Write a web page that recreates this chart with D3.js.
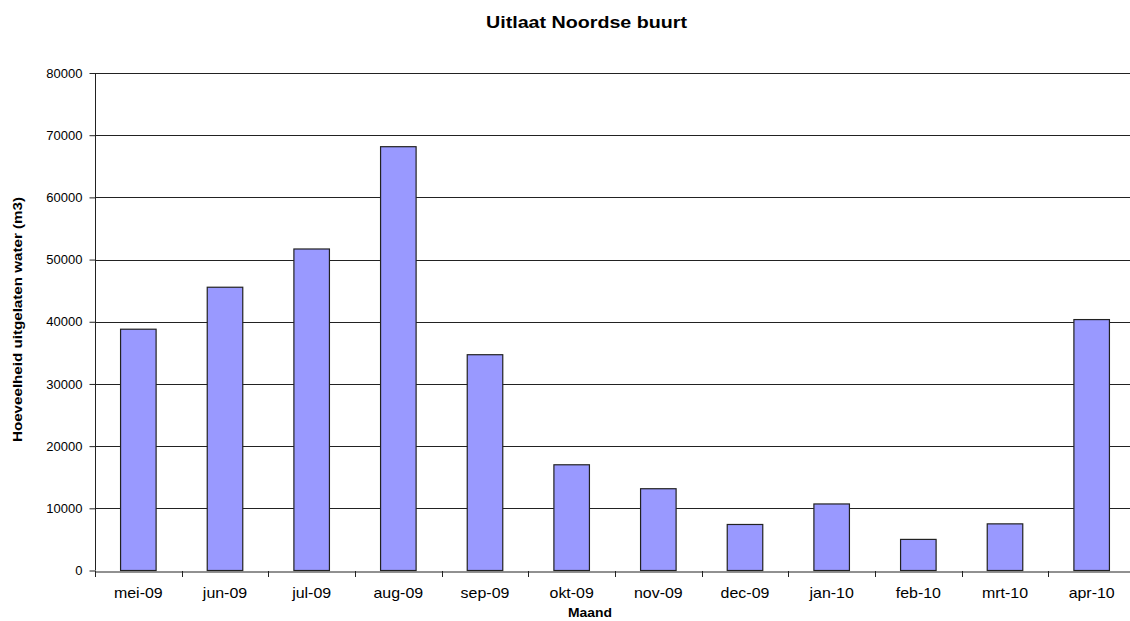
<!DOCTYPE html>
<html>
<head>
<meta charset="utf-8">
<script src="https://cdn.jsdelivr.net/npm/d3@7"></script>
<style>
  body { margin: 0; background: #fff; }
  text { font-family: "Liberation Sans", Arial, sans-serif; }
</style>
</head>
<body>
<div id="chart"></div>
<script>
/* Uitlaat Noordse buurt - bar chart */

const months = ["mei-09", "jun-09", "jul-09", "aug-09", "sep-09", "okt-09",
                "nov-09", "dec-09", "jan-10", "feb-10", "mrt-10", "apr-10"];
const water = [38800, 45550, 51700, 68150, 34700, 17000,
               13150, 7400, 10700, 5000, 7500, 40350];
const yTicks = [0, 10000, 20000, 30000, 40000, 50000, 60000, 70000, 80000];

const width = 1130,
    height = 621,
    margin = ({top: 73, right: -5, bottom: 50.5, left: 95});

let svg = d3.select("#chart")
    .append("svg")
    .attr("width", width)
    .attr("height", height);

let x = d3.scaleBand()
    .domain(months)
    .range([margin.left, width - margin.right])
    .padding(0);

let y = d3.scaleLinear()
    .domain([0, 80000])
    .range([height - margin.bottom, margin.top]);

// gridlines
svg.append("g")
    .selectAll("line")
    .data(yTicks.slice(1))
    .join("line")
    .attr("x1", margin.left)
    .attr("x2", width - margin.right)
    .attr("y1", d => Math.round(y(d)) + 0.5)
    .attr("y2", d => Math.round(y(d)) + 0.5)
    .attr("stroke", "#222")
    .attr("stroke-width", 1);

// bars
const barW = x.bandwidth() * 0.41;
svg.append("g")
    .selectAll("rect")
    .data(water)
    .join("rect")
    .attr("fill", "#9999ff")
    .attr("stroke", "#222")
    .attr("stroke-width", 1.2)
    .attr("x", (d, i) => x(months[i]) + (x.bandwidth() - barW) / 2)
    .attr("width", barW)
    .attr("y", d => y(d))
    .attr("height", d => y(0) - y(d));

// axes
const xAxis = g => g
    .attr("transform", `translate(0,${Math.round(y(0)) + 0.5})`)
    .call(d3.axisBottom(x).tickSize(0).tickPadding(0))
    .call(g => g.select(".domain").attr("stroke", "#222"))
    .call(g => g.selectAll(".tick text")
        .attr("dy", null)
        .attr("y", 0)
        .attr("transform", "translate(0,26) scale(1.14,1)")
        .attr("font-size", 14)
        .attr("fill", "#000"));

svg.append("g").call(xAxis);

// x ticks sit at band edges
svg.append("g")
    .selectAll("line")
    .data(months)
    .join("line")
    .attr("x1", d => Math.round(x(d)) + 0.5)
    .attr("x2", d => Math.round(x(d)) + 0.5)
    .attr("y1", Math.round(y(0)))
    .attr("y2", Math.round(y(0)) + 6)
    .attr("stroke", "#222");

const yAxis = g => g
    .attr("transform", `translate(${margin.left + 0.5},0)`)
    .call(d3.axisLeft(y).tickValues(yTicks).tickFormat(d3.format("d")).tickSize(6).tickPadding(7))
    .call(g => g.select(".domain").attr("stroke", "#222").attr("d", `M0,${y(0)}V${y(80000)}`))
    .call(g => g.selectAll(".tick text").attr("font-size", 13).attr("fill", "#000"))
    .call(g => g.selectAll(".tick line").attr("stroke", "#222"));

svg.append("g").call(yAxis);

// titles
svg.append("text")
    .attr("x", 486)
    .attr("y", 28)
    .attr("font-size", 16)
    .attr("font-weight", "bold")
    .attr("textLength", 201)
    .attr("lengthAdjust", "spacingAndGlyphs")
    .text("Uitlaat Noordse buurt");

svg.append("text")
    .attr("x", 568)
    .attr("y", 617)
    .attr("font-size", 13)
    .attr("font-weight", "bold")
    .attr("textLength", 44)
    .attr("lengthAdjust", "spacingAndGlyphs")
    .text("Maand");

svg.append("text")
    .attr("transform", "translate(22,442) rotate(-90)")
    .attr("font-size", 13)
    .attr("font-weight", "bold")
    .attr("textLength", 245)
    .attr("lengthAdjust", "spacingAndGlyphs")
    .text("Hoeveelheid uitgelaten water (m3)");
</script>
</body>
</html>
